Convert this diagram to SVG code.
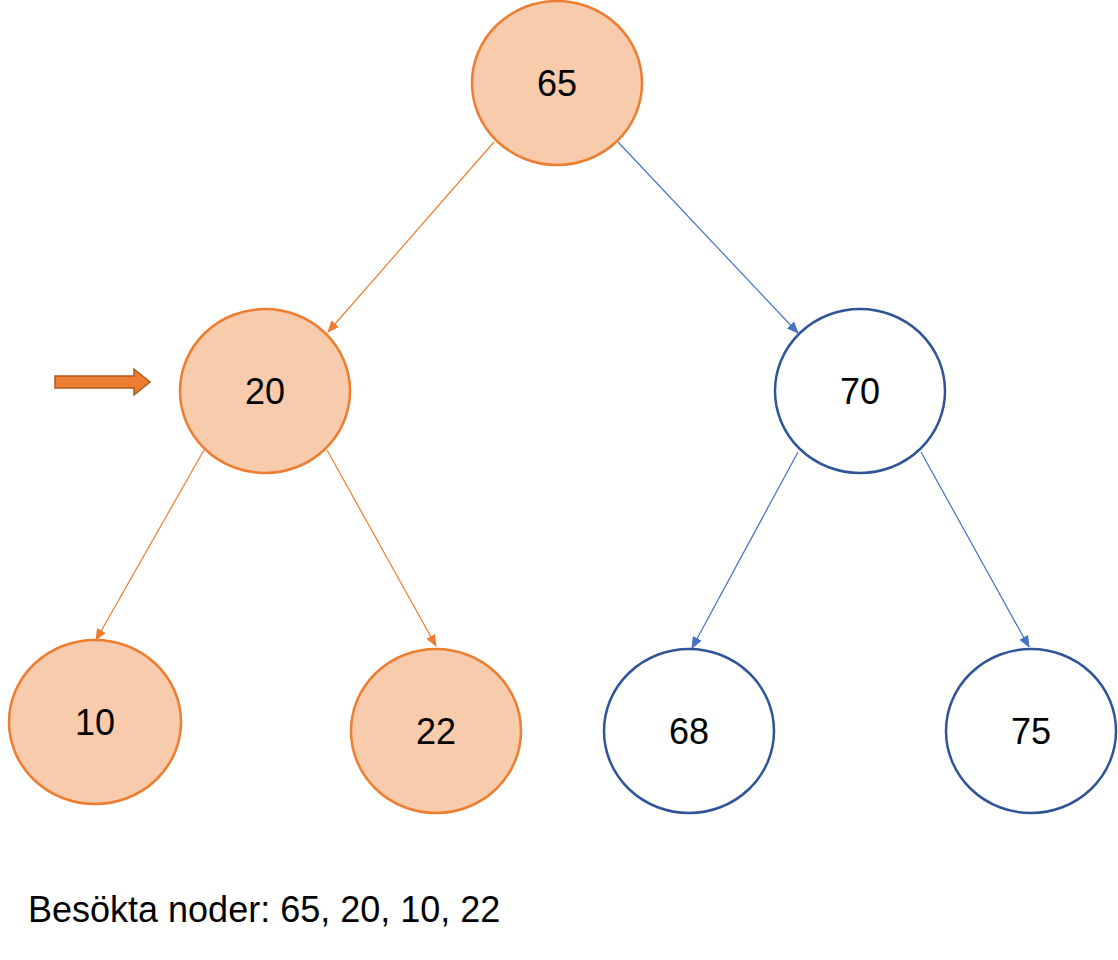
<svg xmlns="http://www.w3.org/2000/svg" width="1118" height="960" viewBox="0 0 1118 960">
<style>
.o{fill:#F8CBAD;stroke:#ED7D31;stroke-width:2.5}
.b{fill:#fff;stroke:#2F5597;stroke-width:2.5}
.eo{stroke:#ED7D31;stroke-width:1.2;fill:none;marker-end:url(#mo)}
.eb{stroke:#4472C4;stroke-width:1.2;fill:none;marker-end:url(#mb)}
text{font-family:"Liberation Sans",Arial,sans-serif;font-size:36px;fill:#000}
.n{text-anchor:middle;dominant-baseline:central}
</style>
<defs>
<marker id="mo" markerWidth="12" markerHeight="10" refX="11" refY="5" orient="auto" markerUnits="userSpaceOnUse"><path d="M0,0L12,5L0,10z" fill="#ED7D31"/></marker>
<marker id="mb" markerWidth="12" markerHeight="10" refX="11" refY="5" orient="auto" markerUnits="userSpaceOnUse"><path d="M0,0L12,5L0,10z" fill="#4472C4"/></marker>
</defs>
<rect width="1118" height="960" fill="#fff"/>
<g id="connectors">
<line class="eo" x1="494" y1="142" x2="328" y2="332"/>
<line class="eb" x1="618" y1="142" x2="798" y2="333"/>
<line class="eo" x1="204" y1="450" x2="96" y2="640"/>
<line class="eo" x1="327" y1="450" x2="436" y2="646"/>
<line class="eb" x1="798" y1="452" x2="692" y2="648"/>
<line class="eb" x1="921" y1="452" x2="1029" y2="647"/>
</g>
<g id="n65"><ellipse class="o" cx="557" cy="83" rx="85" ry="82"/><text class="n" x="557" y="83">65</text></g>
<g id="n20"><ellipse class="o" cx="265" cy="391" rx="85" ry="82"/><text class="n" x="265" y="391">20</text></g>
<g id="n70"><ellipse class="b" cx="860" cy="391" rx="85" ry="82"/><text class="n" x="860" y="391">70</text></g>
<g id="n10"><ellipse class="o" cx="95" cy="722" rx="86" ry="82"/><text class="n" x="95" y="722">10</text></g>
<g id="n22"><ellipse class="o" cx="436" cy="731" rx="85" ry="82"/><text class="n" x="436" y="731">22</text></g>
<g id="n68"><ellipse class="b" cx="689" cy="731" rx="85" ry="82"/><text class="n" x="689" y="731">68</text></g>
<g id="n75"><ellipse class="b" cx="1031" cy="731" rx="85" ry="82"/><text class="n" x="1031" y="731">75</text></g>
<g id="pointer"><path d="M55,376H134V369L150,382L134,395V388H55Z" fill="#ED7D31" stroke="#AE5A21" stroke-width="1.5"/></g>
<text x="28" y="922">Besökta noder: 65, 20, 10, 22</text>
</svg>
